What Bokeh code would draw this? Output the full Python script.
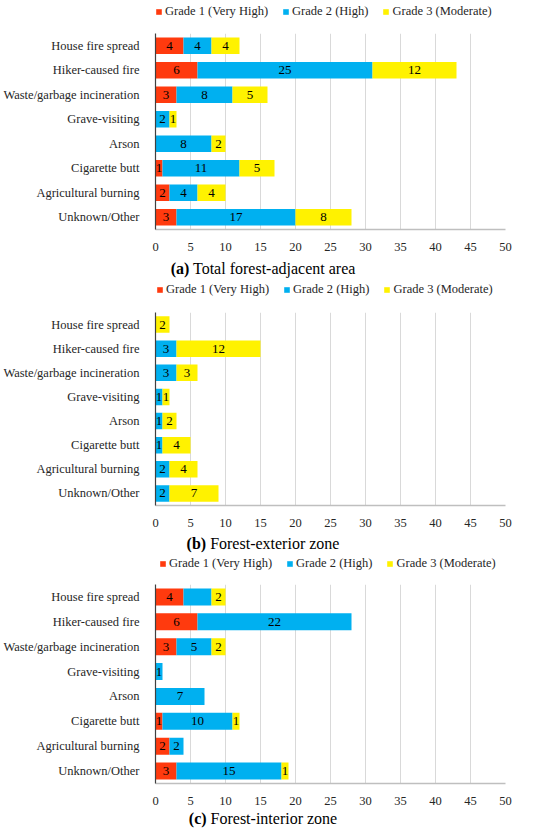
from bokeh.plotting import figure
from bokeh.models import ColumnDataSource, Range1d, FactorRange, Legend, LegendItem, FixedTicker, Div
from bokeh.layouts import column
from bokeh.embed import file_html
from bokeh.resources import INLINE
from bokeh.core.properties import value

causes = ["House fire spread", "Hiker-caused fire", "Waste/garbage incineration",
          "Grave-visiting", "Arson", "Cigarette butt", "Agricultural burning", "Unknown/Other"]
grades = ["Grade 1 (Very High)", "Grade 2 (High)", "Grade 3 (Moderate)"]
colors = ["#FF3A0E", "#00B0F0", "#FFF200"]
x_ticks = [0, 5, 10, 15, 20, 25, 30, 35, 40, 45, 50]

total_g1 = [4, 6, 3, 0, 0, 1, 2, 3]
total_g2 = [4, 25, 8, 2, 8, 11, 4, 17]
total_g3 = [4, 12, 5, 1, 2, 5, 4, 8]

ext_g1 = [0, 0, 0, 0, 0, 0, 0, 0]
ext_g2 = [0, 3, 3, 1, 1, 1, 2, 2]
ext_g3 = [2, 12, 3, 1, 2, 4, 4, 7]

int_g1 = [4, 6, 3, 0, 0, 1, 2, 3]
int_g2 = [4, 22, 5, 1, 7, 10, 2, 15]
int_g3 = [2, 0, 2, 0, 0, 1, 0, 1]

# data labels that are not shown in the original (panel, grade index, cause)
hidden_labels = [("c", 1, "House fire spread")]

FONT = "'Liberation Serif'"
LEFT, FW, RIGHT = 149, 356, 29
W = LEFT + FW + RIGHT


def legend_fig(h, leg_x, leg_top):
    lp = figure(width=W, height=h, output_backend="svg", toolbar_location=None,
                x_axis_type=None, y_axis_type=None, min_border=0,
                min_border_left=LEFT, min_border_right=RIGHT,
                min_border_top=0, min_border_bottom=0,
                x_range=Range1d(0, 1), y_range=Range1d(0, 1))
    lp.outline_line_color = None
    lp.grid.visible = False
    # zero-width swatch renderers, used only to draw the legend keys
    rs = [lp.hbar(y=[0], left=[0], right=[0], height=0, fill_color=c, line_color=None)
          for c in colors]
    legend = Legend(items=[LegendItem(label=g, renderers=[r]) for g, r in zip(grades, rs)],
                    orientation="horizontal", location=(leg_x, h - leg_top - 16),
                    glyph_width=7, glyph_height=7, label_standoff=3, spacing=14,
                    padding=0, margin=0, label_height=16,
                    label_text_font=FONT, label_text_font_size="12.5px",
                    label_text_color="#262626", border_line_color=None,
                    background_fill_alpha=0)
    lp.add_layout(legend, "center")
    return lp


def make_panel(tag, g1, g2, g3, top, fh, bottom):
    p = figure(width=W, height=top + fh + bottom, output_backend="svg",
               toolbar_location=None, y_range=FactorRange(factors=causes[::-1]),
               x_range=Range1d(0, 50), min_border_left=LEFT, min_border_right=RIGHT,
               min_border_top=top, min_border_bottom=bottom)
    p.outline_line_color = None
    p.background_fill_color = "white"
    p.border_fill_color = "white"

    src = ColumnDataSource(dict(cat=causes, g1=g1, g2=g2, g3=g3))
    p.hbar_stack(["g1", "g2", "g3"], y="cat", height=0.68, color=colors,
                 line_color=None, source=src)

    xs, ys, ts = [], [], []
    for i, c in enumerate(causes):
        start = 0
        for k, arr in enumerate([g1, g2, g3]):
            v = arr[i]
            if v > 0 and (tag, k, c) not in hidden_labels:
                xs.append(start + v / 2)
                ys.append(c)
                ts.append(str(v))
            start += v
    lsrc = ColumnDataSource(dict(x=xs, y=ys, t=ts))
    p.text(x="x", y="y", text="t", source=lsrc, text_align="center",
           text_baseline="middle", text_font=value(FONT), text_font_size="13px",
           text_color="#000000")

    p.xaxis.ticker = FixedTicker(ticks=x_ticks)
    p.xaxis.major_tick_line_color = None
    p.xaxis.minor_tick_line_color = None
    p.xaxis.axis_line_color = "#BFBFBF"
    p.xaxis.axis_line_width = 1.5
    p.xaxis.major_label_text_font = FONT
    p.xaxis.major_label_text_font_size = "12.5px"
    p.xaxis.major_label_text_color = "#262626"
    p.xaxis.major_label_standoff = 7

    p.yaxis.major_tick_line_color = None
    p.yaxis.minor_tick_line_color = None
    p.yaxis.axis_line_color = "#404040"
    p.yaxis.axis_line_width = 1.2
    p.yaxis.major_label_text_font = FONT
    p.yaxis.major_label_text_font_size = "12.5px"
    p.yaxis.major_label_text_color = "#262626"
    p.yaxis.major_label_standoff = 10

    p.xgrid.grid_line_color = "#D9D9D9"
    p.xgrid.grid_line_width = 1
    p.ygrid.grid_line_color = None
    return p


def caption(tag, text, h):
    return Div(text="<b>(" + tag + ")</b> " + text, width=526, height=h, margin=0,
               styles={"font-family": "'Liberation Serif', serif", "font-size": "16px",
                       "line-height": str(h) + "px", "text-align": "center",
                       "color": "#000000", "white-space": "nowrap"})


la = legend_fig(31, 0, 3)
pa = make_panel("a", total_g1, total_g2, total_g3, 2, 196, 30)
ca = caption("a", "Total forest-adjacent area", 19)
lb = legend_fig(32, 1, 3)
pb = make_panel("b", ext_g1, ext_g2, ext_g3, 2, 193, 30)
cb = caption("b", "Forest-exterior zone", 17)
lc = legend_fig(30, 4, 3)
pc = make_panel("c", int_g1, int_g2, int_g3, 2, 199, 30)
cc = caption("c", "Forest-interior zone", 12)

layout = column(la, pa, ca, lb, pb, cb, lc, pc, cc, spacing=0)
open("out.html", "w").write(file_html(layout, INLINE))
